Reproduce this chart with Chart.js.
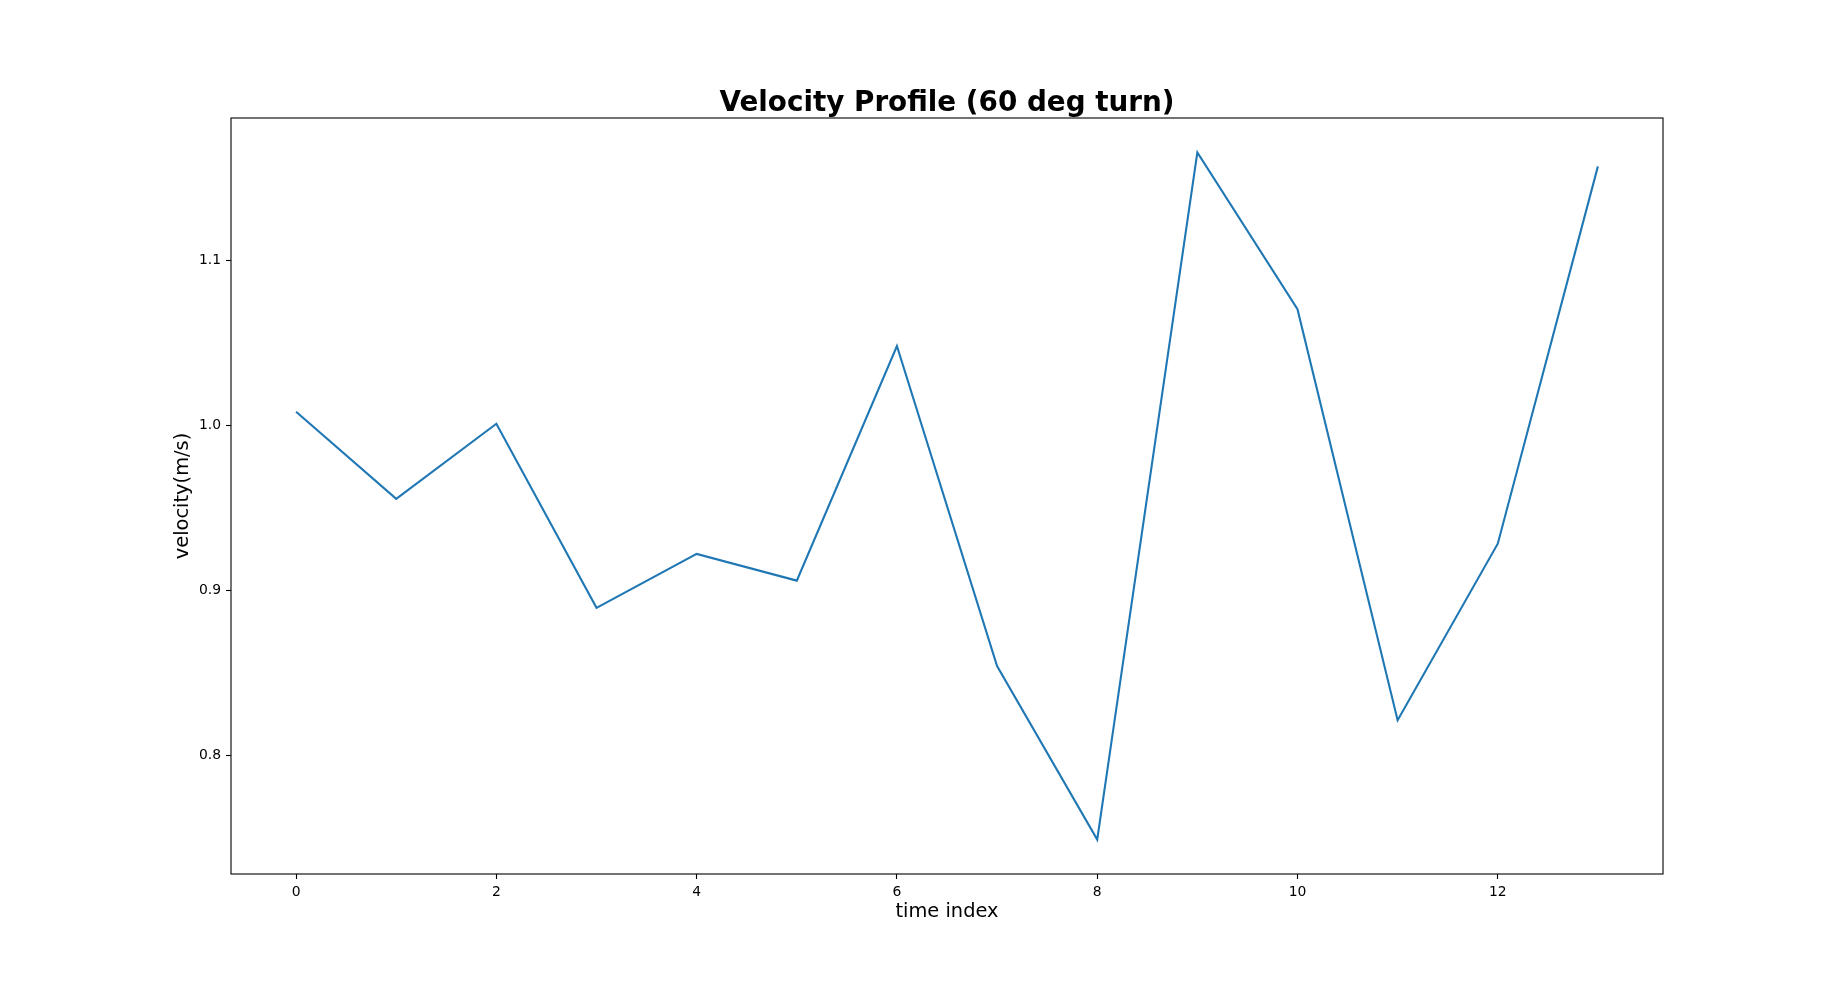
<!DOCTYPE html>
<html>
<head>
<meta charset="utf-8">
<script src="https://cdn.jsdelivr.net/npm/chart.js@4.4.1/dist/chart.umd.min.js"></script>
<style>
html,body{margin:0;padding:0;background:#ffffff;overflow:hidden}
#c{display:block;width:1848px;height:982px}
</style>
</head>
<body>
<canvas id="c" width="1848" height="982"></canvas>
<script>
// ---- data ----
const timeIndex = [0, 1, 2, 3, 4, 5, 6, 7, 8, 9, 10, 11, 12, 13];
const velocity = [1.0083, 0.9555, 1.0010, 0.8894, 0.9221, 0.9059, 1.0481, 0.8541, 0.7489, 1.1655, 1.0704, 0.8213, 0.9283, 1.1570];
const xTicks = [0, 2, 4, 6, 8, 10, 12];
const yTicks = [0.8, 0.9, 1.0, 1.1];
const titleText = 'Velocity Profile (60 deg turn)';
const xLabel = 'time index';
const yLabel = 'velocity(m/s)';

// ---- axis limits (matplotlib-style 5% margins) ----
function padRange(arr) {
  const lo = Math.min(...arr), hi = Math.max(...arr), m = (hi - lo) * 0.05;
  return [lo - m, hi + m];
}
const [xMin, xMax] = padRange(timeIndex);
const [yMin, yMax] = padRange(velocity);

const FONT = 'DejaVu Sans';

const framePlugin = {
  id: 'frame',
  afterDatasetsDraw(chart) {
    const {ctx, chartArea: a} = chart;
    ctx.save();
    ctx.strokeStyle = '#000000';
    ctx.lineWidth = 1.1;
    ctx.strokeRect(a.left, a.top, a.right - a.left, a.bottom - a.top);
    ctx.restore();
  }
};

new Chart(document.getElementById('c'), {
  type: 'line',
  data: {
    datasets: [{
      data: timeIndex.map((t, i) => ({x: t, y: velocity[i]})),
      borderColor: '#1f77b4',
      borderWidth: 2.1,
      pointRadius: 0,
      tension: 0,
      fill: false
    }]
  },
  options: {
    responsive: false,
    animation: false,
    devicePixelRatio: 1,
    layout: {padding: {left: 0, right: 185, top: 89.6, bottom: 0}},
    plugins: {
      legend: {display: false},
      tooltip: {enabled: false},
      title: {
        display: true,
        text: titleText,
        fullSize: false,
        color: '#000000',
        font: {family: FONT, size: 27.8, weight: 'bold', lineHeight: 1.0},
        padding: {top: 0, bottom: 0.6}
      }
    },
    scales: {
      x: {
        type: 'linear',
        position: 'bottom',
        min: xMin,
        max: xMax,
        afterBuildTicks: s => { s.ticks = xTicks.map(v => ({value: v})); },
        afterFit: s => { s.height = 108; },
        ticks: {
          color: '#000000',
          font: {family: FONT, size: 13.9},
          padding: 5,
          maxRotation: 0,
          autoSkip: false,
          callback: v => String(v)
        },
        grid: {drawOnChartArea: false, drawTicks: true, tickLength: 5, tickColor: '#000000', tickWidth: 1.1},
        border: {display: false},
        title: {
          display: true,
          text: xLabel,
          color: '#000000',
          font: {family: FONT, size: 19.4, lineHeight: 1.2},
          padding: {top: 0, bottom: 58.8}
        }
      },
      y: {
        type: 'linear',
        position: 'left',
        min: yMin,
        max: yMax,
        afterBuildTicks: s => { s.ticks = yTicks.map(v => ({value: v})); },
        afterFit: s => { s.width = 231; },
        ticks: {
          color: '#000000',
          font: {family: FONT, size: 13.9},
          padding: 5,
          autoSkip: false,
          callback: v => Number(v).toFixed(1)
        },
        grid: {drawOnChartArea: false, drawTicks: true, tickLength: 5, tickColor: '#000000', tickWidth: 1.1},
        border: {display: false},
        title: {
          display: true,
          text: yLabel,
          color: '#000000',
          font: {family: FONT, size: 19.4, lineHeight: 1.2},
          padding: {top: 170.9, bottom: 0}
        }
      }
    }
  },
  plugins: [framePlugin]
});
</script>
</body>
</html>
